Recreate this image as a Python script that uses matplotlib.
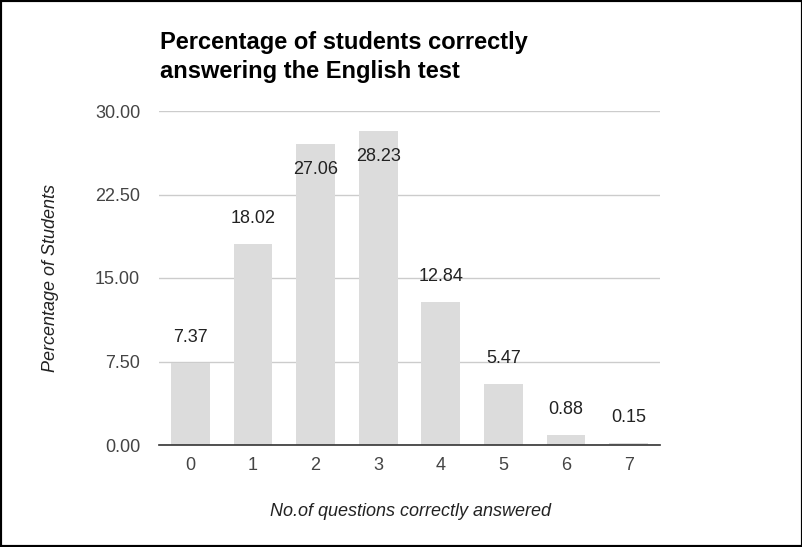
import matplotlib.pyplot as plt
from matplotlib.patches import Rectangle

plt.rcParams['font.family'] = ['Liberation Sans', 'DejaVu Sans']

questions = ['0', '1', '2', '3', '4', '5', '6', '7']
percent = [7.37, 18.02, 27.06, 28.23, 12.84, 5.47, 0.88, 0.15]
yticks = [0, 7.5, 15, 22.5, 30]

W, H = 803, 547
fig = plt.figure(figsize=(W / 100, H / 100), dpi=100)
ax = fig.add_axes([159 / W, 1 - 445 / H, 501 / W, 334 / H])

x = range(len(percent))
ax.bar(x, percent, width=0.62, color='#dcdcdc', zorder=2)

# value labels: above the bar, inside it for the tall ones
for xi, v in zip(x, percent):
    off = -18.5 if v > 25 else 18.5
    ax.annotate(f'{v:.2f}', (xi, v), xytext=(0, off), textcoords='offset points',
                ha='center', va='center', fontsize=13, color='#222222', zorder=3)

ax.set_xlim(-0.5, 7.5)
ax.set_ylim(0, 30)
ax.set_xticks(list(x))
ax.set_xticklabels(questions)
ax.set_yticks(yticks)
ax.set_yticklabels([f'{t:.2f}' for t in yticks])
ax.tick_params(length=0, labelsize=13, colors='#444444')
ax.tick_params(axis='x', pad=9)
ax.tick_params(axis='y', pad=13.5)
ax.grid(axis='y', color='#cccccc', linewidth=1, zorder=0)
for s in ['top', 'right', 'left']:
    ax.spines[s].set_visible(False)
ax.spines['bottom'].set_color('#333333')
ax.spines['bottom'].set_linewidth(1.2)
ax.spines['bottom'].set_zorder(4)

fig.text(410 / W, 1 - 512 / H, 'No.of questions correctly answered', fontsize=13,
         style='italic', color='#222222', ha='center', va='center')
fig.text(51 / W, 1 - 278 / H, 'Percentage of Students', fontsize=13, style='italic',
         color='#222222', ha='center', va='center', rotation=90)

fig.text(160 / W, 1 - 57 / H, 'Percentage of students correctly\nanswering the English test',
         fontsize=17, fontweight='bold', color='#000000', ha='left', va='center',
         linespacing=1.38)

fig.patches.append(Rectangle((0, 0), 1, 1, transform=fig.transFigure, fill=False,
                             edgecolor='black', linewidth=3))

fig.savefig('out.png', dpi=100)
